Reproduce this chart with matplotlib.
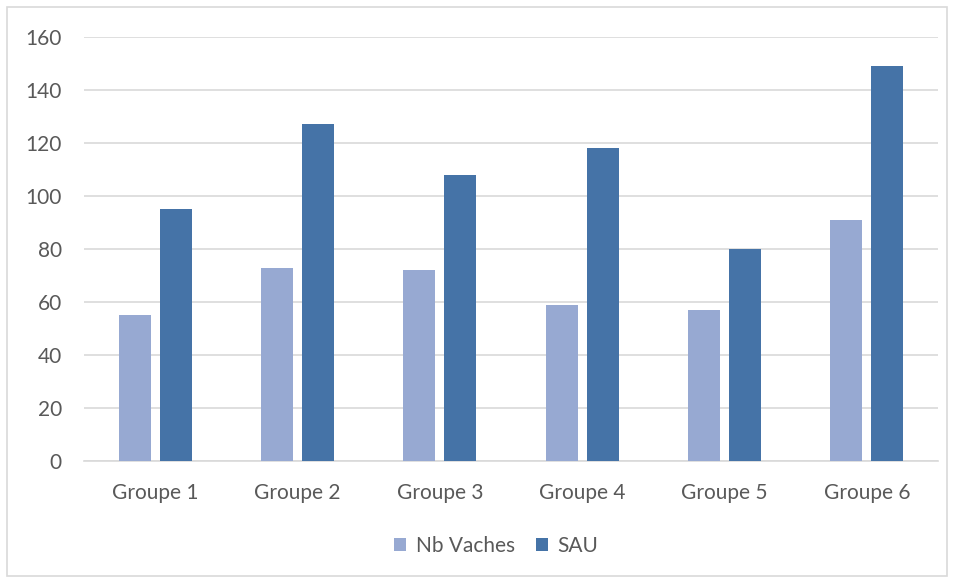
import matplotlib.pyplot as plt
import numpy as np
from matplotlib.patches import Rectangle

categories = ["Groupe 1", "Groupe 2", "Groupe 3", "Groupe 4", "Groupe 5", "Groupe 6"]
nb_vaches = [55, 73, 72, 59, 57, 91]
sau = [95, 127, 108, 118, 80, 149]
yticks = [0, 20, 40, 60, 80, 100, 120, 140, 160]

plt.rcParams['font.family'] = ['Lato', 'DejaVu Sans']
text_color = '#595959'

fig = plt.figure(figsize=(9.56, 5.79), dpi=100)
ax = fig.add_axes([84/956, 118/579, (938-84)/956, (461-37)/579])

x = np.arange(len(categories))
w = 0.225
off = 0.145
ax.bar(x - off, nb_vaches, w, color='#97A9D2', label='Nb Vaches', zorder=3)
ax.bar(x + off, sau, w, color='#4573A7', label='SAU', zorder=3)

ax.set_xlim(-0.5, len(categories) - 0.5)
ax.set_ylim(0, 160)
ax.set_yticks(yticks)
ax.set_yticklabels([str(t) for t in yticks])
ax.set_xticks(x)
ax.set_xticklabels(categories)
ax.tick_params(axis='both', length=0, labelsize=15, colors=text_color)
ax.tick_params(axis='y', pad=16)
ax.tick_params(axis='x', pad=16)
ax.grid(axis='y', color='#D9D9D9', linewidth=1.2, zorder=0)
for s in ['top', 'right', 'left']:
    ax.spines[s].set_visible(False)
ax.spines['bottom'].set_color('#D9D9D9')
ax.spines['bottom'].set_linewidth(1.2)

leg = fig.legend(loc='center', bbox_to_anchor=(496/956, 1 - 546/579), ncol=2, frameon=False,
                 fontsize=15, handlelength=0.6, handleheight=0.6, handletextpad=0.45,
                 columnspacing=1.0)
for t in leg.get_texts():
    t.set_color(text_color)

fig.patches.append(Rectangle((7/956, 3/579), 940/956, 569/579, transform=fig.transFigure,
                             fill=False, edgecolor='#D9D9D9', linewidth=1.2))

fig.savefig('out.png', dpi=100, facecolor='white')
